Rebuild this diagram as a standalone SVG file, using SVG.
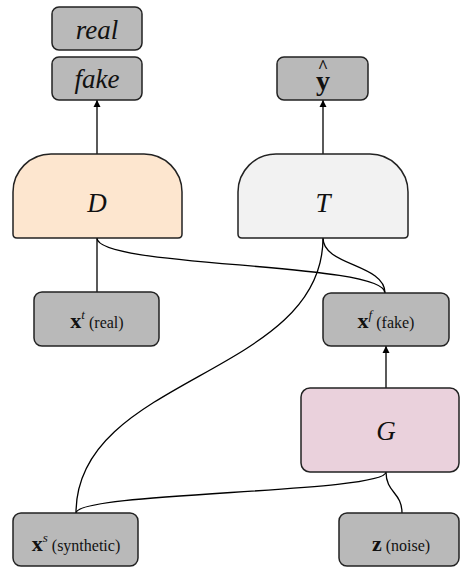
<svg xmlns="http://www.w3.org/2000/svg" width="460" height="567" viewBox="0 0 460 567" font-family="Liberation Serif, Times New Roman, serif">
  <defs>
    <marker id="arrow" viewBox="0 0 10 10" refX="10" refY="5" markerWidth="7" markerHeight="8" markerUnits="userSpaceOnUse" orient="auto">
      <path d="M0,0 L10,5 L0,10 z" fill="#000"/>
    </marker>
  </defs>

  <!-- connectors -->
  <g id="connectors" fill="none" stroke="#000" stroke-width="1.3">
    <line x1="97" y1="154" x2="97" y2="100" marker-end="url(#arrow)"/>
    <line x1="323" y1="154" x2="323" y2="100" marker-end="url(#arrow)"/>
    <line x1="386" y1="388" x2="386" y2="346" marker-end="url(#arrow)"/>
    <line x1="97" y1="238" x2="97" y2="292"/>
    <path d="M97,238 C97,268 385,262 385,293"/>
    <path d="M323,238 C323,266 385,264 385,293"/>
    <path d="M323,238 C323,376 76,376 76,513"/>
    <path d="M76,513 C76,492 386,493 386,472"/>
    <path d="M386,472 C386,493 402,492 402,513"/>
  </g>

  <g id="out-real">
    <rect x="52" y="7" width="90" height="43" rx="7" fill="#b9b9b9" stroke="#222" stroke-width="1.5"/>
    <text x="97" y="39" font-family="Liberation Serif, Times New Roman, serif" font-style="italic" font-size="27" text-anchor="middle" fill="#111">real</text>
  </g>
  <g id="out-fake">
    <rect x="52" y="57" width="90" height="43" rx="7" fill="#b9b9b9" stroke="#222" stroke-width="1.5"/>
    <text x="97" y="88" font-family="Liberation Serif, Times New Roman, serif" font-style="italic" font-size="27" text-anchor="middle" fill="#111">fake</text>
  </g>
  <g id="out-yhat">
    <rect x="277" y="57" width="91" height="43" rx="7" fill="#b9b9b9" stroke="#222" stroke-width="1.5"/>
    <text x="323" y="75" font-family="Liberation Serif, Times New Roman, serif" font-weight="bold" text-anchor="middle" fill="#111"><tspan x="323" y="73" font-size="18">^</tspan><tspan x="323" y="90" font-size="28">y</tspan></text>
  </g>

  <g id="D">
    <path d="M17,238 Q13,238 13,234 L13,192 A38,38 0 0 1 51,154 L144,154 A38,38 0 0 1 182,192 L182,234 Q182,238 178,238 Z" fill="#fde6cf" stroke="#222" stroke-width="1.5"/>
    <text x="97" y="212" font-family="Liberation Serif, Times New Roman, serif" font-style="italic" font-size="27" text-anchor="middle" fill="#111">D</text>
  </g>
  <g id="T">
    <path d="M242,238 Q238,238 238,234 L238,192 A38,38 0 0 1 276,154 L370,154 A38,38 0 0 1 408,192 L408,234 Q408,238 404,238 Z" fill="#f2f2f2" stroke="#222" stroke-width="1.5"/>
    <text x="323" y="212" font-family="Liberation Serif, Times New Roman, serif" font-style="italic" font-size="27" text-anchor="middle" fill="#111">T</text>
  </g>

  <g id="x-real">
    <rect x="34" y="292" width="125" height="54" rx="8" fill="#b9b9b9" stroke="#222" stroke-width="1.5"/>
    <text x="97" y="328" font-family="Liberation Serif, Times New Roman, serif" font-size="16" text-anchor="middle" fill="#111"><tspan font-weight="bold" font-size="22">x</tspan><tspan dy="-9" font-style="italic" font-size="13">t</tspan><tspan dy="9"> (real)</tspan></text>
  </g>
  <g id="x-fake">
    <rect x="323" y="293" width="126" height="53" rx="8" fill="#b9b9b9" stroke="#222" stroke-width="1.5"/>
    <text x="386" y="328" font-family="Liberation Serif, Times New Roman, serif" font-size="16" text-anchor="middle" fill="#111"><tspan font-weight="bold" font-size="22">x</tspan><tspan dy="-9" font-style="italic" font-size="13">f</tspan><tspan dy="9"> (fake)</tspan></text>
  </g>

  <g id="G">
    <rect x="301" y="388" width="158" height="84" rx="9" fill="#ead1dc" stroke="#222" stroke-width="1.5"/>
    <text x="386" y="440" font-family="Liberation Serif, Times New Roman, serif" font-style="italic" font-size="27" text-anchor="middle" fill="#111">G</text>
  </g>

  <g id="x-synthetic">
    <rect x="13" y="513" width="125" height="53" rx="8" fill="#b9b9b9" stroke="#222" stroke-width="1.5"/>
    <text x="76" y="551" font-family="Liberation Serif, Times New Roman, serif" font-size="16" text-anchor="middle" fill="#111"><tspan font-weight="bold" font-size="22">x</tspan><tspan dy="-9" font-style="italic" font-size="13">s</tspan><tspan dy="9"> (synthetic)</tspan></text>
  </g>
  <g id="z-noise">
    <rect x="339" y="513" width="120" height="53" rx="8" fill="#b9b9b9" stroke="#222" stroke-width="1.5"/>
    <text x="401" y="551" font-family="Liberation Serif, Times New Roman, serif" font-size="16" text-anchor="middle" fill="#111"><tspan font-weight="bold" font-size="22">z</tspan><tspan>  (noise)</tspan></text>
  </g>
</svg>
